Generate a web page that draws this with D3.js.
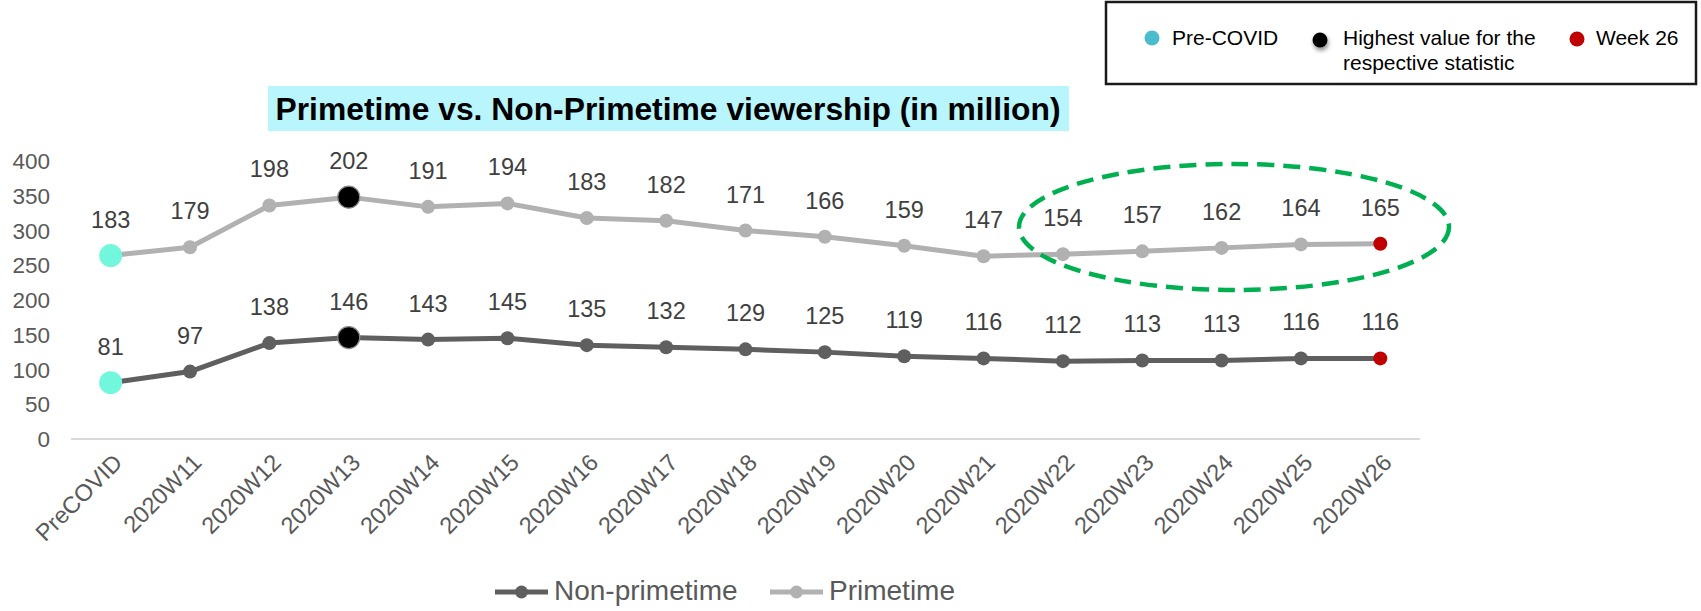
<!DOCTYPE html>
<html>
<head>
<meta charset="utf-8">
<script src="https://cdn.jsdelivr.net/npm/d3@7"></script>
<style>
  html, body { margin: 0; padding: 0; background: #fff; }
  svg { display: block; font-family: Arial, "Liberation Sans", Helvetica, sans-serif; }
</style>
</head>
<body>
<svg id="chart" width="1701" height="611"></svg>
<script>
// Weekly viewership, in million
const categories = ["PreCOVID", "2020W11", "2020W12", "2020W13", "2020W14", "2020W15",
  "2020W16", "2020W17", "2020W18", "2020W19", "2020W20", "2020W21", "2020W22",
  "2020W23", "2020W24", "2020W25", "2020W26"];
const nonPrimetime = [81, 97, 138, 146, 143, 145, 135, 132, 129, 125, 119, 116, 112, 113, 113, 116, 116];
const primetime = [183, 179, 198, 202, 191, 194, 183, 182, 171, 166, 159, 147, 154, 157, 162, 164, 165];
const yTicks = [0, 50, 100, 150, 200, 250, 300, 350, 400];
const seriesNames = ["Non-primetime", "Primetime"];
const keyItems = ["Pre-COVID", "Highest value for the|respective statistic", "Week 26"];

const svg = d3.select("#chart");

const colors = { "Non-primetime": "#5f5f5f", "Primetime": "#b1b1b1" };
const preColor = "#72f7dc", maxColor = "#000000", lastColor = "#c00000";

const x = d3.scalePoint().domain(categories).range([71, 1420]).padding(0.5);
const y = d3.scaleLinear().domain([0, 400]).range([439, 161]);

// stack primetime on top of non-primetime
const rows = categories.map((c, i) => ({ cat: c, "Non-primetime": nonPrimetime[i], "Primetime": primetime[i] }));
const stacked = d3.stack().keys(seriesNames)(rows);

// defs: shadow for the key's black dot
const defs = svg.append("defs");
const f = defs.append("filter").attr("id", "dotShadow").attr("x", "-100%").attr("y", "-100%").attr("width", "300%").attr("height", "300%");
f.append("feDropShadow").attr("dx", 1).attr("dy", 3).attr("stdDeviation", 2.2).attr("flood-color", "#000").attr("flood-opacity", 0.45);

// title
const titleG = svg.append("g");
titleG.append("rect").attr("x", 268).attr("y", 86).attr("width", 801).attr("height", 45).attr("fill", "#b8f5fc");
titleG.append("text").attr("x", 668).attr("y", 120).attr("text-anchor", "middle")
  .attr("font-size", 30.5).attr("font-weight", "bold").attr("fill", "#000")
  .attr("textLength", 785).attr("lengthAdjust", "spacingAndGlyphs")
  .text("Primetime vs. Non-Primetime viewership (in million)");

// y axis labels
svg.append("g").selectAll("text").data(yTicks).join("text")
  .attr("x", 50).attr("y", d => y(d) + 8).attr("text-anchor", "end")
  .attr("font-size", 22.5).attr("fill", "#595959").text(d => d);

// x axis baseline
svg.append("line").attr("x1", 71).attr("x2", 1420).attr("y1", y(0)).attr("y2", y(0))
  .attr("stroke", "#d9d9d9").attr("stroke-width", 2);

// x axis labels
svg.append("g").selectAll("text").data(categories).join("text")
  .attr("text-anchor", "end").attr("font-size", 23.5).attr("fill", "#595959")
  .attr("transform", d => `translate(${x(d) + 13},${y(0) + 25}) rotate(-45)`)
  .text(d => d);

// lines, markers, labels
stacked.forEach((layer, si) => {
  const name = layer.key;
  const raw = si === 0 ? nonPrimetime : primetime;
  const pts = layer.map((d, i) => ({ cat: categories[i], top: d[1], v: raw[i] }));
  const maxI = d3.maxIndex(raw);
  const g = svg.append("g");
  g.append("path").datum(pts)
    .attr("fill", "none").attr("stroke", colors[name]).attr("stroke-width", 5)
    .attr("stroke-linejoin", "round")
    .attr("d", d3.line().x(d => x(d.cat)).y(d => y(d.top)));
  g.selectAll("circle").data(pts).join("circle")
    .attr("cx", d => x(d.cat)).attr("cy", d => y(d.top))
    .attr("r", (d, i) => i === 0 ? 11.5 : i === maxI ? 11 : 7)
    .attr("fill", (d, i) => i === 0 ? preColor : i === maxI ? maxColor : i === pts.length - 1 ? lastColor : colors[name])
    .attr("stroke", (d, i) => i === maxI ? "#8a8a8a" : "none")
    .attr("stroke-width", 1.2);
  g.selectAll("text").data(pts).join("text")
    .attr("x", d => x(d.cat)).attr("y", d => y(d.top) - 28)
    .attr("text-anchor", "middle").attr("font-size", 23.5).attr("fill", "#404040")
    .text(d => d.v);
});

// highlight ellipse around the recent primetime weeks
svg.append("ellipse").attr("cx", 1234).attr("cy", 227).attr("rx", 215).attr("ry", 63)
  .attr("fill", "none").attr("stroke", "#00b050").attr("stroke-width", 4.5)
  .attr("stroke-dasharray", "17 9");

// marker key box
const key = svg.append("g");
key.append("rect").attr("x", 1106).attr("y", 2).attr("width", 590).attr("height", 82)
  .attr("fill", "#fff").attr("stroke", "#1a1a1a").attr("stroke-width", 2.5);
const keyDots = [
  { cx: 1152, cy: 38, r: 7.5, fill: "#4bbccc", tx: 1172 },
  { cx: 1320, cy: 40, r: 7.5, fill: "#000", tx: 1343, shadow: true },
  { cx: 1577, cy: 39, r: 7.5, fill: "#c00000", tx: 1596 }
];
keyDots.forEach((k, i) => {
  key.append("circle").attr("cx", k.cx).attr("cy", k.cy).attr("r", k.r).attr("fill", k.fill)
    .attr("filter", k.shadow ? "url(#dotShadow)" : null);
  const lines = keyItems[i].split("|");
  const t = key.append("text").attr("font-size", 21).attr("fill", "#000");
  lines.forEach((ln, j) => t.append("tspan").attr("x", k.tx).attr("y", 45 + j * 25).text(ln));
});

// series legend
const leg = svg.append("g");
const legItems = [
  { name: "Non-primetime", x0: 495 },
  { name: "Primetime", x0: 770 }
];
legItems.forEach(it => {
  leg.append("line").attr("x1", it.x0).attr("x2", it.x0 + 53).attr("y1", 592).attr("y2", 592)
    .attr("stroke", colors[it.name]).attr("stroke-width", 5);
  leg.append("circle").attr("cx", it.x0 + 26.5).attr("cy", 592).attr("r", 6.5).attr("fill", colors[it.name]);
  leg.append("text").attr("x", it.x0 + 59).attr("y", 600).attr("font-size", 28)
    .attr("fill", "#595959").text(it.name);
});
</script>
</body>
</html>
